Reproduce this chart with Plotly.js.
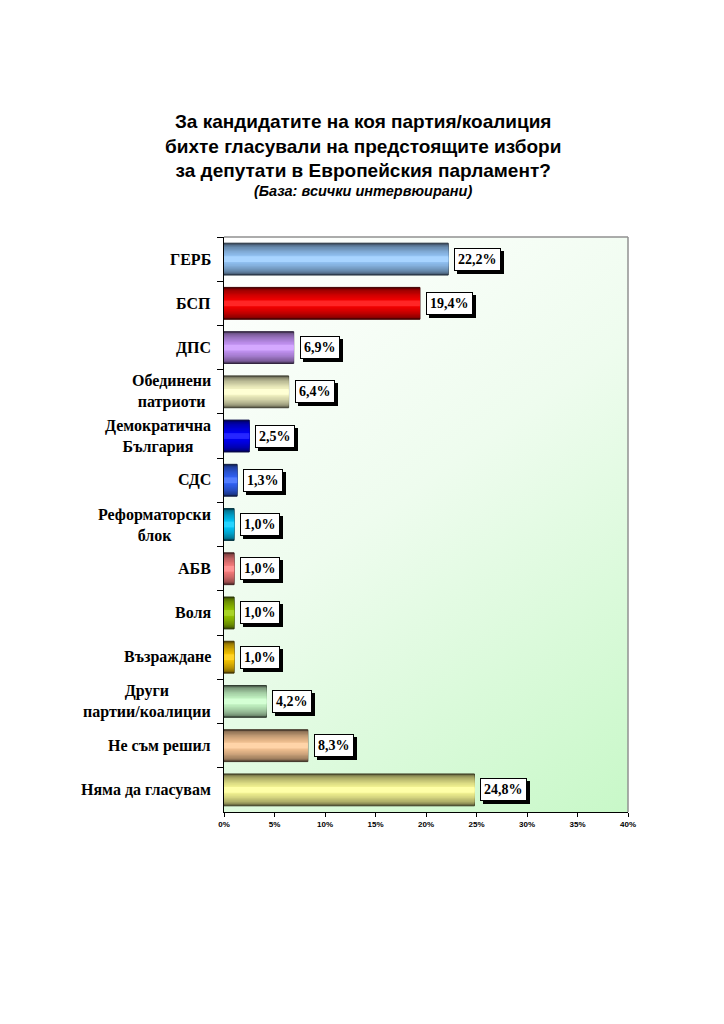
<!DOCTYPE html>
<html><head><meta charset="utf-8">
<script src="https://cdn.plot.ly/plotly-3.0.1.min.js"></script>
<style>html,body{margin:0;padding:0;background:#fff}#c{width:724px;height:1024px}</style>
</head><body><div id="c"></div>
<script>
const categories = ["ГЕРБ","БСП","ДПС","Обединени<br>патриоти","Демократична<br>България","СДС","Реформаторски<br>блок","АБВ","Воля","Възраждане","Други<br>партии/коалиции","Не съм решил","Няма да гласувам"];
const values = [22.2,19.4,6.9,6.4,2.5,1.3,1.0,1.0,1.0,1.0,4.2,8.3,24.8];
const barColors = ["#99ccff","#ff0000","#cc99ff","#ffffcc","#0000ff","#3366ff","#00ccff","#ff8080","#99cc00","#ffcc00","#ccffcc","#ffcc99","#ffff99"];
const xTicks = [0,5,10,15,20,25,30,35,40];
const titleText = "За кандидатите на коя партия/коалиция<br>бихте гласували на предстоящите избори<br>за депутати в Европейския парламент?";
const subtitleText = "(База: всички интервюирани)";

function hexToRgb(h){h=h.replace('#','');return [parseInt(h.substr(0,2),16),parseInt(h.substr(2,2),16),parseInt(h.substr(4,2),16)];}
function shade(h,f){const c=hexToRgb(h);return 'rgb('+c.map(v=>Math.round(v*f)).join(',')+')';}
function tint(h,f){const c=hexToRgb(h);return 'rgb('+c.map(v=>Math.round(v+(255-v)*f)).join(',')+')';}

// background gradient
const cv=document.createElement('canvas');cv.width=404;cv.height=575;
const cx=cv.getContext('2d');
const g=cx.createLinearGradient(0,0,404,575);
g.addColorStop(0,'#ffffff');g.addColorStop(0.45,'#eefcee');g.addColorStop(1,'#c8f8c8');
cx.fillStyle=g;cx.fillRect(0,0,404,575);
const bgURL=cv.toDataURL();

// cylinder shading: nested overlay bars from dark edge to lighter centre
const layers=[];
const N=12;
for(let k=0;k<N;k++){
 const t=k/(N-1);               // 0 edge -> 1 centre
 const w=0.72*(1-t*0.9);
 const f=0.35+0.65*Math.sqrt(t); // darkness factor
 layers.push({w:w,col:c=>(t>0.85?tint(c,0.15):shade(c,Math.min(1,f)))});
}
const traces=layers.map((L,i)=>({
 type:'bar',orientation:'h',y:categories,x:values,width:L.w,
 marker:{color:barColors.map(L.col),line:{width:i===0?1:0,color:barColors.map(c=>shade(c,0.25))}},
 hoverinfo:'skip',showlegend:false
}));

const ann=[];
const lblFont={family:'Liberation Serif, Times New Roman, serif',size:14,color:'#000'};
categories.forEach((c,i)=>{
 const t=values[i].toFixed(1).replace('.',',')+'%';
 ann.push({x:values[i],y:c,xref:'x',yref:'y',text:'<b>'+t+'</b>',showarrow:false,xanchor:'left',yanchor:'middle',
  xshift:6,bgcolor:'#fff',bordercolor:'#000',borderwidth:1,borderpad:3,font:lblFont,name:'val'});
 ann.push({x:-0.027,y:c,xref:'paper',yref:'y',text:'<b>'+c+'</b>',showarrow:false,xanchor:'right',yanchor:'middle',align:'center',
  font:{family:'Liberation Serif, Times New Roman, serif',size:16,color:'#000'}});
});
ann.push({x:0.344,y:1.158,xref:'paper',yref:'paper',text:'<b>'+titleText+'</b>',showarrow:false,xanchor:'center',yanchor:'middle',align:'center',
 font:{family:'Liberation Sans, Arial, sans-serif',size:19,color:'#000'}});
ann.push({x:0.344,y:1.08,xref:'paper',yref:'paper',text:'<b><i>'+subtitleText+'</i></b>',showarrow:false,xanchor:'center',yanchor:'middle',
 font:{family:'Liberation Sans, Arial, sans-serif',size:14.5,color:'#000'}});

const layout={
 width:724,height:1024,margin:{l:224,r:96,t:237,b:212},
 paper_bgcolor:'#fff',plot_bgcolor:'rgba(0,0,0,0)',barmode:'overlay',bargap:0.28,
 xaxis:{range:[0,40],tickvals:xTicks,ticktext:xTicks.map(v=>'<b>'+v+'%</b>'),showgrid:false,zeroline:false,
  showline:true,linecolor:'#000',linewidth:1,ticks:'outside',ticklen:4,tickcolor:'#000',
  tickfont:{family:'Liberation Sans, Arial, sans-serif',size:8,color:'#000'}},
 yaxis:{autorange:'reversed',type:'category',showticklabels:false,showgrid:false,zeroline:false,
  showline:true,linecolor:'#000',linewidth:1,ticks:'outside',ticklen:6,tickcolor:'#000',tickson:'boundaries'},
 images:[{source:bgURL,xref:'paper',yref:'paper',x:0,y:1,sizex:1,sizey:1,sizing:'stretch',layer:'below',xanchor:'left',yanchor:'top'}],
 shapes:[
  {type:'line',xref:'paper',yref:'paper',x0:0,x1:1,y0:1,y1:1,line:{color:'#909090',width:1.5}},
  {type:'line',xref:'paper',yref:'paper',x0:1,x1:1,y0:0,y1:1,line:{color:'#909090',width:1.5}}
 ],
 annotations:ann
};
Plotly.newPlot('c',traces,layout,{displayModeBar:false,staticPlot:true}).then(gd=>{
 gd.querySelectorAll('g.annotation').forEach(el=>{
  const idx=+el.getAttribute('data-index');
  const a=gd.layout.annotations[idx];
  if(a && a.name==='val'){
   const r=el.querySelector('rect.bg');
   if(r) r.style.filter='drop-shadow(3px 3px 0px #000)';
  }
 });
});
</script></body></html>
